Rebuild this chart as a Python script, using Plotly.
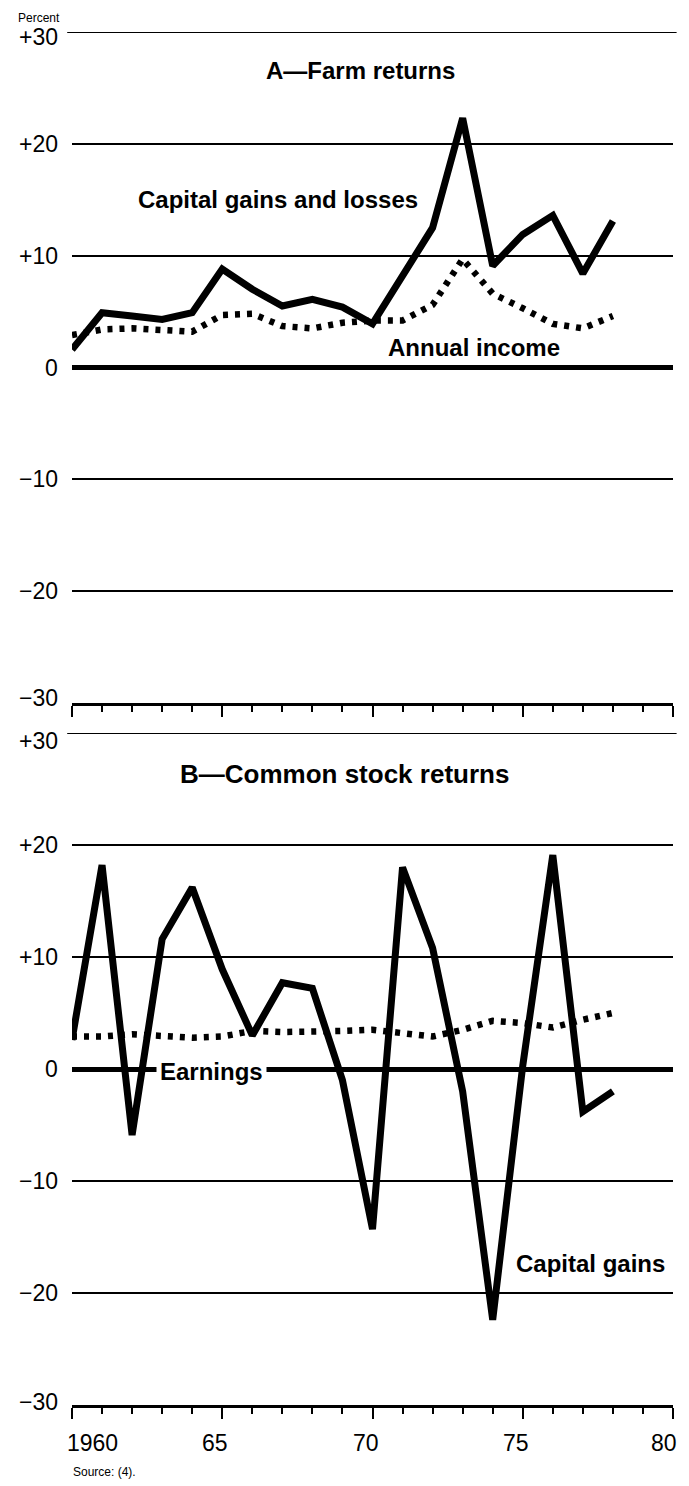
import plotly.graph_objects as go

# ---------------- data ----------------
years = list(range(1960, 1979))

farm_capital_gains = [1.6, 4.9, 4.6, 4.3, 4.9, 8.8, 7.0, 5.5, 6.1, 5.4, 3.9,
                      8.1, 12.5, 22.3, 9.1, 11.9, 13.6, 8.4, 13.1]
farm_annual_income = [2.9, 3.4, 3.5, 3.4, 3.2, 4.7, 4.8, 3.7, 3.5, 4.0, 4.2,
                      4.2, 5.6, 9.7, 6.6, 5.3, 3.9, 3.5, 4.6]

stock_capital_gains = [2.6, 18.2, -5.9, 11.6, 16.2, 8.9, 3.0, 7.7, 7.2, -1.0, -14.3,
                       18.0, 10.8, -2.0, -22.4, 0.3, 19.1, -3.8, -2.0]
stock_earnings = [2.9, 2.9, 3.1, 2.9, 2.8, 2.9, 3.4, 3.3, 3.3, 3.4, 3.5,
                  3.2, 2.9, 3.5, 4.3, 4.1, 3.7, 4.4, 5.0]

y_tickvals = [-30, -20, -10, 0, 10, 20, 30]
y_ticktext = ["\u221230", "\u221220", "\u221210", "0", "+10", "+20", "+30"]
x_label_vals = [1960, 1965, 1970, 1975, 1980]
x_label_text = ["1960", "65", "70", "75", "80"]

# ---------------- layout geometry ----------------
W, H = 689, 1486
OFF = 8  # page body margin
FONT = "Liberation Sans, Arial, Helvetica, sans-serif"

def px(sx):
    return (sx - OFF) / W

def py(sy):
    return 1 - (sy - OFF) / H

xdom = [px(72), px(673)]
ydomA = [py(703), py(32)]
ydomB = [py(1405), py(733)]

fig = go.Figure()

solid = dict(color="black", width=7)
dotted = dict(color="black", width=6.5, dash="5px,7px")

fig.add_trace(go.Scatter(x=years, y=farm_capital_gains, mode="lines", line=solid,
                         xaxis="x", yaxis="y", showlegend=False))
fig.add_trace(go.Scatter(x=years, y=farm_annual_income, mode="lines", line=dotted,
                         xaxis="x", yaxis="y", showlegend=False))
fig.add_trace(go.Scatter(x=years, y=stock_capital_gains, mode="lines", line=solid,
                         xaxis="x2", yaxis="y2", showlegend=False))
fig.add_trace(go.Scatter(x=years, y=stock_earnings, mode="lines", line=dotted,
                         xaxis="x2", yaxis="y2", showlegend=False))

xcommon = dict(
    range=[1960, 1980], domain=xdom, showgrid=False, zeroline=False,
    showline=True, linecolor="black", linewidth=2.5,
    ticks="outside", tick0=1960, dtick=5, ticklen=11, tickwidth=2.2, tickcolor="black",
    minor=dict(dtick=1, ticks="outside", ticklen=6, tickwidth=2, tickcolor="black"),
    showticklabels=False, fixedrange=True, automargin=False,
)
ycommon = dict(
    range=[-30, 30], tickvals=y_tickvals,
    showgrid=True, gridcolor="black", gridwidth=1.8,
    zeroline=True, zerolinecolor="black", zerolinewidth=5,
    showline=False, ticks="", showticklabels=False,
    fixedrange=True, automargin=False,
)

fig.update_layout(
    width=W, height=H, autosize=False,
    margin=dict(l=0, r=0, t=0, b=0, autoexpand=False),
    paper_bgcolor="white", plot_bgcolor="white",
    xaxis=dict(**xcommon, anchor="y"),
    yaxis=dict(**ycommon, domain=ydomA, anchor="x"),
    xaxis2=dict(**xcommon, anchor="y2"),
    yaxis2=dict(**ycommon, domain=ydomB, anchor="x2"),
    font=dict(family=FONT, color="black"),
)

# top (+30) gridlines, which Plotly clips at the range edge
shapes = []
for xr, yr in (("x domain", "y"), ("x2 domain", "y2")):
    shapes.append(dict(type="line", xref=xr, yref=yr, x0=-0.008, x1=1.006,
                       y0=y_tickvals[-1], y1=y_tickvals[-1],
                       line=dict(color="black", width=1.8), layer="below"))

ann = []
def add(text, x, y, size, xref="paper", yref="paper", xanchor="center", yanchor="middle", **kw):
    ann.append(dict(text=text, x=x, y=y, xref=xref, yref=yref, xanchor=xanchor,
                    yanchor=yanchor, showarrow=False,
                    font=dict(family=FONT, size=size, color="black"), **kw))

# y-axis labels (per-label vertical nudges as in the printed original)
nudgeA = {30: -5, -30: 5}
nudgeB = {30: -8, -30: 3}
for yr, nudge in (("y", nudgeA), ("y2", nudgeB)):
    for v, t in zip(y_tickvals, y_ticktext):
        add(t, px(60), v, 23, yref=yr, xanchor="right", yshift=nudge.get(v, 0))

add("Percent", px(17), py(10), 12, xanchor="left", yanchor="top", borderpad=0)
add("<b>A\u2014Farm returns</b>", px(360), py(70), 24)
add("<b>Capital gains and losses</b>", px(136), py(200), 24, xanchor="left")
add("<b>Annual income</b>", px(386), py(347), 24, xanchor="left")
add("<b>B\u2014Common stock returns</b>", px(344), py(774), 26)
add("<b>Earnings</b>", px(211), py(1071), 24, bgcolor="white", borderpad=3)
add("<b>Capital gains</b>", px(514), py(1263), 24, xanchor="left")
add("Source: (4).", px(71), py(1472), 12, xanchor="left")

shifts = [20, -7, -7, -7, -9]
for v, t, s in zip(x_label_vals, x_label_text, shifts):
    add(t, v, py(1443), 23, xref="x2", xshift=s)

fig.update_layout(annotations=ann, shapes=shapes)

fig.write_html("out.html")
